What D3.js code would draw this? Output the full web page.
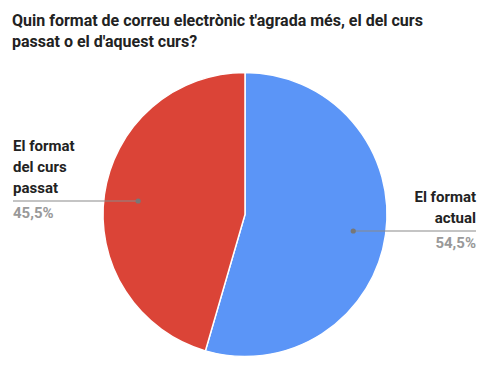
<!DOCTYPE html>
<html><head><meta charset="utf-8">
<script src="https://cdn.jsdelivr.net/npm/d3@7"></script>
<style>body{margin:0;background:#fff}svg{display:block;font-family:Roboto,Arial,sans-serif}</style>
</head><body><div id="c"></div>
<script>
const categories = ["El format actual", "El format del curs passat"];
const values = [54.5, 45.5];
const pctLabels = ["54,5%", "45,5%"];
const labelLines = [["El format", "actual"], ["El format", "del curs", "passat"]];
const colors = ["#5b95f7", "#db4437"];
const titleLines = ["Quin format de correu electrònic t'agrada més, el del curs", "passat o el d'aquest curs?"];

const W = 492, H = 366;
const svg = d3.select("#c").append("svg").attr("width", W).attr("height", H);
svg.selectAll("text.title").data(titleLines).join("text")
  .attr("x", 12).attr("y", (d, i) => 26 + i * 21)
  .attr("font-size", 16).attr("font-weight", "bold").attr("fill", "#222").text(d => d);

const cx = 245, cy = 214.5, R = 142;
const pie = d3.pie().sort(null).value(d => d)(values);
const arc = d3.arc().innerRadius(0).outerRadius(R);
const g = svg.append("g").attr("transform", `translate(${cx},${cy})`);
g.selectAll("path").data(pie).join("path")
  .attr("d", arc).attr("fill", (d, i) => colors[i])
  .attr("stroke", "#fff").attr("stroke-width", 1.5);

const lbl = [
  {lineY: 231, x2: 476, anchor: "end", tx: 476, rf: 0.77},
  {lineY: 201, x2: 13, anchor: "start", tx: 13, rf: 0.76}
];
pie.forEach((p, i) => {
  const L = lbl[i];
  const c = d3.arc().innerRadius(R * L.rf).outerRadius(R * L.rf).centroid(p);
  const dx = cx + c[0];
  const dy = L.lineY;
  svg.append("line").attr("x1", dx).attr("y1", dy).attr("x2", L.x2).attr("y2", dy)
    .attr("stroke", "#8a8a8a").attr("stroke-width", 1.2);
  svg.append("circle").attr("cx", dx).attr("cy", dy).attr("r", 2.6).attr("fill", "#777");
  const lines = labelLines[i];
  lines.forEach((t, j) => {
    svg.append("text").attr("x", L.tx).attr("y", dy - 8 - (lines.length - 1 - j) * 21)
      .attr("text-anchor", L.anchor).attr("font-size", 15).attr("font-weight", "bold")
      .attr("fill", "#222").text(t);
  });
  svg.append("text").attr("x", L.tx).attr("y", dy + 17)
    .attr("text-anchor", L.anchor).attr("font-size", 15).attr("font-weight", "bold")
    .attr("fill", "#999").text(pctLabels[i]);
});
</script></body></html>
